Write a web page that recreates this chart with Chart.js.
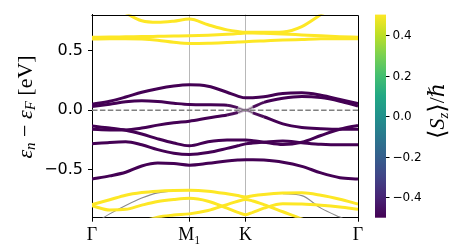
<!DOCTYPE html>
<html><head><meta charset="utf-8">
<script src="https://cdn.jsdelivr.net/npm/chart.js@4/dist/chart.umd.min.js"></script>
<style>html,body{margin:0;padding:0;background:#fff;}</style>
</head><body>
<canvas id="c" width="463" height="246"></canvas>
<script>
// ---- data ----
const kGrid = [0, 0.182, 0.346, 0.511, 0.675, 0.840, 1.0, 1.192, 1.387, 1.497, 1.5774, 1.652, 1.765, 1.960, 2.155, 2.351, 2.546, 2.7321];
const kTicks = [0, 1.0, 1.5774, 2.7321];
const kLabels = ['Γ', 'M₁', 'K', 'Γ'];
const yTicks = [-0.5, 0.0, 0.5];
const cbTicks = [-0.4, -0.2, 0.0, 0.2, 0.4];
const fermiLevel = 0.0;

const bandA = [0.98, 0.90, 0.815, 0.748, 0.735, 0.745, 0.763, 0.715, 0.672, 0.658, 0.652, 0.652, 0.652, 0.655, 0.70, 0.80, 0.90, 0.98];
const bandB = [0.61, 0.612, 0.614, 0.616, 0.618, 0.62, 0.622, 0.627, 0.635, 0.641, 0.645, 0.645, 0.643, 0.638, 0.63, 0.622, 0.615, 0.61];
const bandC = [0.595, 0.597, 0.598, 0.595, 0.585, 0.568, 0.558, 0.56, 0.566, 0.57, 0.573, 0.576, 0.58, 0.587, 0.592, 0.597, 0.598, 0.597];
const bandD = [0.05, 0.075, 0.11, 0.15, 0.18, 0.202, 0.212, 0.2, 0.15, 0.118, 0.103, 0.105, 0.113, 0.14, 0.145, 0.125, 0.09, 0.055];
const bandE = [0.03, 0.05, 0.07, 0.078, 0.072, 0.058, 0.047, 0.045, 0.042, 0.02, 0.0, 0.025, 0.065, 0.10, 0.115, 0.105, 0.075, 0.035];
const bandF = [-0.16, -0.165, -0.165, -0.15, -0.125, -0.105, -0.092, -0.065, -0.04, -0.02, 0.0, -0.022, -0.055, -0.115, -0.145, -0.155, -0.16, -0.16];
const bandG = [-0.133, -0.15, -0.168, -0.2, -0.24, -0.275, -0.298, -0.265, -0.25, -0.25, -0.25, -0.255, -0.268, -0.288, -0.268, -0.212, -0.16, -0.127];
const bandH = [-0.282, -0.27, -0.265, -0.29, -0.33, -0.36, -0.371, -0.355, -0.32, -0.298, -0.282, -0.275, -0.268, -0.258, -0.272, -0.285, -0.29, -0.29];
const bandI = [-0.577, -0.55, -0.52, -0.467, -0.443, -0.447, -0.46, -0.445, -0.425, -0.418, -0.415, -0.415, -0.418, -0.435, -0.47, -0.525, -0.565, -0.577];
const bandY1 = [-0.79, -0.75, -0.712, -0.69, -0.678, -0.672, -0.67, -0.678, -0.70, -0.715, -0.727, -0.716, -0.705, -0.694, -0.692, -0.712, -0.745, -0.785];
const bandY2 = [-0.80, -0.835, -0.83, -0.795, -0.765, -0.748, -0.738, -0.762, -0.82, -0.855, -0.875, -0.855, -0.82, -0.783, -0.785, -0.795, -0.81, -0.83];
const bandY3 = [-1.0, -1.0, -0.98, -0.935, -0.895, -0.878, -0.868, -0.84, -0.79, -0.762, -0.748, -0.76, -0.79, -0.85, -0.91, -0.98, -1.05, -1.1];
const bandGL = [-0.96, -0.868, -0.797, -0.735, -0.692, -0.676, null, null, null, null, null, null, null, null, null, null, null, null];
const bandGR = [null, null, null, null, null, null, null, null, null, null, null, null, null, -0.70, -0.715, -0.82, -0.895, -0.96];

const szUp = 0.5, szDown = -0.5;
const szE = [-0.5, -0.5, -0.5, -0.5, -0.5, -0.5, -0.5, -0.5, -0.5, -0.45, 0.0, -0.45, -0.5, -0.5, -0.5, -0.5, -0.5, -0.5];
const szF = [-0.5, -0.5, -0.5, -0.5, -0.5, -0.5, -0.5, -0.5, -0.5, -0.45, 0.0, -0.45, -0.5, -0.5, -0.5, -0.5, -0.5, -0.5];

// ---- colormap ----
const viridis = ['#440154','#482475','#414487','#355f8d','#2a788e','#21918c','#22a884','#44bf70','#7ad151','#bddf26','#fde725'];
function hex2rgb(h){return [parseInt(h.slice(1,3),16),parseInt(h.slice(3,5),16),parseInt(h.slice(5,7),16)];}
function cmap(sz, alpha){
  let t = Math.max(0, Math.min(1, (sz + 0.5) / 1.0));
  const p = t * (viridis.length - 1);
  const i = Math.min(viridis.length - 2, Math.floor(p));
  const f = p - i;
  const a = hex2rgb(viridis[i]), b = hex2rgb(viridis[i+1]);
  const c = a.map((v, j) => Math.round(v + (b[j] - v) * f));
  return `rgba(${c[0]},${c[1]},${c[2]},${alpha})`;
}

const bands = [
  {e: bandA, sz: szUp}, {e: bandB, sz: szUp}, {e: bandC, sz: szUp},
  {e: bandD, sz: szDown}, {e: bandE, sz: szE}, {e: bandF, sz: szF},
  {e: bandG, sz: szDown}, {e: bandH, sz: szDown}, {e: bandI, sz: szDown},
  {e: bandY1, sz: szUp}, {e: bandY2, sz: szUp}, {e: bandY3, sz: szUp}
];
const grayOnly = [bandGL, bandGR];

function pts(arr){ return kGrid.map((k, i) => ({x: k, y: arr[i]})); }
function szAt(b, i){ return Array.isArray(b.sz) ? b.sz[i] : b.sz; }

const datasets = [];
datasets.push({
  data: [{x: kGrid[0], y: fermiLevel}, {x: kGrid[kGrid.length-1], y: fermiLevel}],
  borderColor: '#808080', borderWidth: 1.5, borderDash: [5.5, 2.4], pointRadius: 0, order: 1, clip: 0
});
bands.forEach(b => {
  datasets.push({
    data: pts(b.e), borderWidth: 3, pointRadius: 0, order: 2, clip: 0,
    cubicInterpolationMode: 'monotone', borderCapStyle: 'butt',
    borderColor: cmap(Array.isArray(b.sz) ? -0.5 : b.sz, 1),
    segment: {
      borderColor: ctx => {
        const s0 = szAt(b, ctx.p0DataIndex), s1 = szAt(b, ctx.p1DataIndex);
        const s = (s0 + s1) / 2;
        const a = Math.min(1, Math.pow(Math.abs(s) * 2, 1.6));
        return cmap(s < 0 ? -0.5 : 0.5, a);
      }
    }
  });
});
bands.concat(grayOnly.map(g => ({e: g}))).forEach(b => {
  datasets.push({
    data: pts(b.e), borderWidth: 1.1, pointRadius: 0, order: 3, clip: 0,
    cubicInterpolationMode: 'monotone', borderColor: '#8a8a8a', spanGaps: false
  });
});

function drawRuns(ctx, runs, cx, cy){
  let total = 0;
  runs.forEach(r => { ctx.font = r.font; r.w = ctx.measureText(r.t).width; total += r.w; });
  ctx.save();
  ctx.translate(cx, cy);
  ctx.rotate(-Math.PI / 2);
  ctx.fillStyle = '#000';
  ctx.textBaseline = 'alphabetic';
  ctx.textAlign = 'left';
  let x = -total / 2;
  runs.forEach(r => { ctx.font = r.font; ctx.fillText(r.t, x, r.dy || 0); x += r.w; });
  ctx.restore();
}

const decor = {
  id: 'decor',
  afterDraw(chart){
    const ctx = chart.ctx, ca = chart.chartArea;
    ctx.save();
    ctx.strokeStyle = '#000'; ctx.lineWidth = 1;
    ctx.beginPath();
    ctx.moveTo(Math.round(ca.left) - 0.5, Math.round(ca.top) + 0.5);
    ctx.lineTo(Math.round(ca.right) + 0.5, Math.round(ca.top) + 0.5);
    ctx.lineTo(Math.round(ca.right) + 0.5, Math.round(ca.bottom) + 0.5);
    ctx.stroke();
    const cb = chart.scales.cb;
    const yTop = cb.getPixelForValue(0.5), yBot = cb.getPixelForValue(-0.5);
    const x0 = 375, x1 = 386;
    const g = ctx.createLinearGradient(0, yBot, 0, yTop);
    viridis.forEach((c, i) => g.addColorStop(i / (viridis.length - 1), c));
    ctx.fillStyle = g;
    ctx.fillRect(x0, yTop, x1 - x0, yBot - yTop);
    ctx.font = '12px "DejaVu Sans"';
    ctx.fillStyle = '#000';
    ctx.textBaseline = 'middle'; ctx.textAlign = 'left';
    cbTicks.forEach(v => {
      const y = Math.round(cb.getPixelForValue(v)) + 0.5;
      ctx.beginPath(); ctx.moveTo(x1, y); ctx.lineTo(x1 + 3.5, y); ctx.stroke();
      const lab = v < 0 ? '\u2212' + Math.abs(v).toFixed(1) : v.toFixed(1);
      ctx.fillText(lab, x1 + 6.5, y);
    });
    ctx.restore();
    drawRuns(ctx, [
      {t: '\u27E8', font: '24px "DejaVu Serif"', dy: 1},
      {t: 'S', font: 'italic 22px "Liberation Serif"'},
      {t: 'z', font: 'italic 15px "Liberation Serif"', dy: 4},
      {t: '\u27E9', font: '24px "DejaVu Serif"', dy: 1},
      {t: '/', font: '22px "Liberation Serif"'},
      {t: '\u210F', font: 'italic 22px "DejaVu Serif"'}
    ], 444, 111);
    drawRuns(ctx, [
      {t: 'ε', font: 'italic 22px "Liberation Serif"'},
      {t: 'n', font: 'italic 15px "Liberation Serif"', dy: 3.5},
      {t: ' \u2212 ', font: '22px "Liberation Serif"'},
      {t: 'ε', font: 'italic 22px "Liberation Serif"'},
      {t: 'F', font: 'italic 15px "Liberation Serif"', dy: 3.5},
      {t: ' [eV]', font: '22px "Liberation Serif"'}
    ], 31.5, 107);
  }
};

new Chart(document.getElementById('c'), {
  type: 'line',
  data: {datasets},
  options: {
    responsive: false, animation: false, devicePixelRatio: 1,
    layout: {padding: {left: 0, right: 105, top: 9, bottom: 0}},
    plugins: {legend: {display: false}, tooltip: {enabled: false}},
    scales: {
      x: {
        type: 'linear', min: kTicks[0], max: kTicks[kTicks.length-1],
        afterBuildTicks: s => { s.ticks = kTicks.map(v => ({value: v})); },
        afterFit: s => { s.height = 28.3; },
        ticks: {
          autoSkip: false, maxRotation: 0, padding: 3, color: '#000',
          font: {family: 'Liberation Serif', size: 18},
          callback: (v, i) => kLabels[i]
        },
        grid: {
          color: c => (c.index === 1 || c.index === 2) ? '#b8b8b8' : 'rgba(0,0,0,0)',
          lineWidth: 1, tickLength: 4, tickColor: '#000', drawTicks: true
        },
        border: {display: true, color: '#000', width: 1}
      },
      y: {
        type: 'linear', min: -0.9, max: 0.8,
        afterBuildTicks: s => { s.ticks = yTicks.map(v => ({value: v})); },
        afterFit: s => { s.width = 92; },
        ticks: {
          padding: 5, color: '#000',
          font: {family: 'DejaVu Sans', size: 16},
          callback: v => v < 0 ? '\u2212' + Math.abs(v).toFixed(1) : v.toFixed(1)
        },
        grid: {drawOnChartArea: false, tickLength: 4, tickColor: '#000', color: '#000'},
        border: {display: true, color: '#000', width: 1}
      },
      cb: {type: 'linear', axis: 'y', position: 'right', min: -0.5, max: 0.5, display: false}
    }
  },
  plugins: [decor]
});
</script>
</body></html>
